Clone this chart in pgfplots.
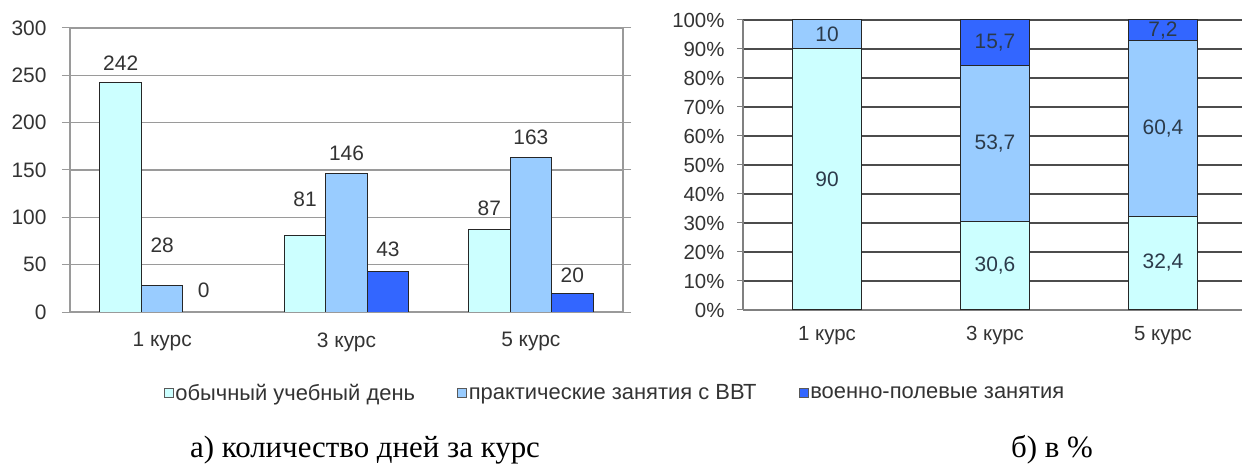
\documentclass[border=0pt]{standalone}
\usepackage{pgfplots}
\pgfplotsset{compat=1.18}
\usepackage{pgfplotstable}
\usepackage{fontspec}
\setmainfont{Liberation Sans}
\newfontfamily\capfont{Liberation Serif}
\definecolor{cA}{HTML}{CCFFFF}
\definecolor{cB}{HTML}{99CCFF}
\definecolor{cC}{HTML}{3366FF}
\definecolor{gridg}{HTML}{9A9A9A}
\definecolor{txt}{HTML}{333333}
\definecolor{txtR}{HTML}{2B3A4A}

% left chart: days per course (x = 0,1,2 -> 1,3,5 kurs)
\pgfplotstableread{
x y off
0 242 20
1 81 36
2 87 21
}\dA
\pgfplotstableread{
x y off
0 28 40
1 146 20
2 163 20
}\dB
\pgfplotstableread{
x y off
0 0 22
1 43 22
2 20 18
}\dC
% right chart: percentages
\pgfplotstableread{
x y lab
0 90 90
1 30.6 {30,6}
2 32.4 {32,4}
}\pA
\pgfplotstableread{
x y lab
0 10 10
1 53.7 {53,7}
2 60.4 {60,4}
}\pB
\pgfplotstableread{
x y lab
0 0 {}
1 15.7 {15,7}
2 7.2 {7,2}
}\pC

\begin{document}
\begin{tikzpicture}
\path[use as bounding box] (0,0) rectangle (1242bp,468bp);

\begin{axis}[
  at={(70bp,156bp)}, anchor=south west,
  scale only axis, width=553bp, height=284bp,
  xmin=-0.5, xmax=2.5, ymin=0, ymax=300,
  ytick={0,50,...,300},
  xtick={0,1,2}, xticklabels={1 курс,3 курс,5 курс},
  x tick style={draw=none},
  extra x ticks={0.5,1.5},
  extra x tick labels={},
  extra x tick style={major tick length=5bp, tick style={draw=gridg, line width=1bp}, grid=none},
  ymajorgrids, grid style={draw=gridg, line width=1.2bp},
  axis line style={draw=gridg, line width=1.2bp},
  y tick style={draw=gridg, line width=1bp},
  tick align=outside, major tick length=8bp,
  ticklabel style={font=\fontsize{21}{24}\selectfont, text=txt},
  /pgf/number format/assume math mode=true,
  yticklabel style={xshift=-12bp},
  xticklabel style={yshift=-9bp},
  ybar, bar width=0.225,
  legend style={at={(0.9855,-0.285)}, anchor=center, draw=none, legend columns=3,
    font=\fontsize{22}{24}\selectfont, text=txt,
    /tikz/every even column/.append style={column sep=40bp}},
  legend image code/.code={\draw[#1, draw=gray!70!black, line width=0.8bp] (0bp,-4.5bp) rectangle (9bp,4.5bp);},
  nodes near coords,
  visualization depends on={\thisrow{off} \as \off},
  every node near coord/.append style={anchor=center, yshift=\off bp, font=\fontsize{21}{24}\selectfont, text=txt},
]
\addplot[fill=cA, draw=black!85, line width=1bp, bar shift=-0.225] table[x=x,y=y] {\dA};
\addplot[fill=cB, draw=black!85, line width=1bp, bar shift=0] table[x=x,y=y] {\dB};
\addplot[fill=cC, draw=black!85, line width=1bp, bar shift=0.225] table[x=x,y=y] {\dC};
\legend{обычный учебный день, практические занятия с ВВТ, военно-полевые занятия}
\end{axis}

\begin{axis}[
  at={(743bp,158bp)}, anchor=south west,
  scale only axis, width=504bp, height=290bp,
  xmin=-0.5, xmax=2.5, ymin=0, ymax=100,
  ytick={0,10,...,100},
  yticklabel={\pgfmathprintnumber{\tick}\%},
  xtick={0,1,2}, xticklabels={1 курс,3 курс,5 курс},
  x tick style={draw=none},
  extra x ticks={0.5,1.5},
  extra x tick labels={},
  extra x tick style={major tick length=5bp, tick style={draw=gray, line width=1bp}, grid=none},
  ymajorgrids, grid style={draw=black!70, line width=1.2bp},
  axis x line*=bottom, axis y line*=left,
  axis line style={draw=gray, line width=1.2bp},
  y tick style={draw=gray, line width=1bp},
  tick align=outside, major tick length=6bp,
  ticklabel style={font=\fontsize{20.5}{23}\selectfont, text=txt},
  /pgf/number format/assume math mode=true,
  yticklabel style={xshift=-9bp},
  xticklabel style={yshift=-7bp},
  ybar stacked, bar width=0.41,
  nodes near coords,
  point meta=explicit symbolic,
  every node near coord/.append style={anchor=center, font=\fontsize{21}{24}\selectfont, text=txtR},
]
\addplot[fill=cA, draw=black!85, line width=1bp] table[x=x,y=y,meta=lab] {\pA};
\addplot[fill=cB, draw=black!85, line width=1bp] table[x=x,y=y,meta=lab] {\pB};
\addplot[fill=cC, draw=black!85, line width=1bp] table[x=x,y=y,meta=lab] {\pC};
\end{axis}

\node[font=\capfont\fontsize{31}{36}\selectfont, anchor=base] at (365bp,11bp) {а) количество дней за курс};
\node[font=\capfont\fontsize{31}{36}\selectfont, anchor=base] at (1052bp,11bp) {б) в \%};
\end{tikzpicture}
\end{document}
